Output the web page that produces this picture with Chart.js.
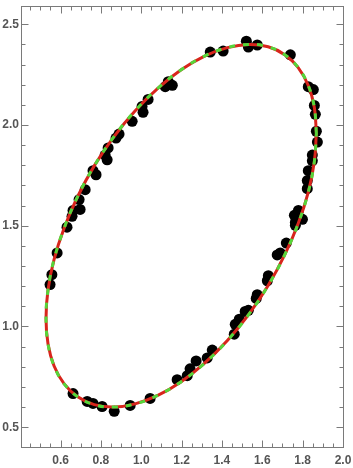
<!DOCTYPE html>
<html>
<head>
<meta charset="utf-8">
<script src="https://cdn.jsdelivr.net/npm/chart.js@4.4.1/dist/chart.umd.min.js"></script>
<style>
  html, body { margin: 0; padding: 0; background: #ffffff; }
  #wrap { position: relative; width: 353px; height: 468px; }
</style>
</head>
<body>
<div id="wrap"><canvas id="c"></canvas></div>
<script>
// ---- data ----
const sampleX = [1.342,1.406,1.521,1.531,1.575,1.739,1.828,1.853,1.858,1.863,1.868,1.873,1.848,1.848,1.828,1.823,1.823,1.779,1.759,1.799,1.764,1.764,1.719,1.674,1.689,1.630,1.625,1.575,1.570,1.515,1.531,1.486,1.466,1.461,1.352,1.327,1.272,1.242,1.228,1.178,1.044,0.945,0.866,0.806,0.761,0.732,0.662,0.548,0.557,0.583,0.632,0.657,0.662,0.697,0.692,0.722,0.761,0.776,0.831,0.821,0.836,0.875,0.890,0.955,1.009,1.004,1.034,1.134,1.154,1.119];
const sampleY = [2.362,2.367,2.416,2.387,2.397,2.348,2.190,2.176,2.097,2.053,1.969,1.915,1.851,1.822,1.773,1.724,1.684,1.576,1.552,1.532,1.517,1.502,1.414,1.355,1.365,1.252,1.227,1.158,1.139,1.075,1.080,1.036,1.011,0.962,0.883,0.844,0.829,0.790,0.756,0.736,0.643,0.608,0.579,0.603,0.618,0.628,0.667,1.208,1.257,1.365,1.493,1.547,1.576,1.581,1.630,1.679,1.773,1.753,1.827,1.851,1.886,1.935,1.955,2.018,2.063,2.092,2.127,2.215,2.197,2.190];

// fitted closed curve, read along the drawn ellipse
const curveX = [1.868,1.858,1.828,1.778,1.711,1.629,1.533,1.427,1.314,1.198,1.082,0.969,0.863,0.767,0.685,0.618,0.568,0.538,0.528,0.538,0.568,0.618,0.685,0.767,0.863,0.969,1.082,1.198,1.314,1.427,1.533,1.629,1.711,1.778,1.828,1.858,1.868];
const curveY = [1.959,2.087,2.196,2.285,2.349,2.388,2.400,2.384,2.342,2.274,2.182,2.070,1.940,1.797,1.645,1.489,1.333,1.182,1.041,0.913,0.804,0.715,0.651,0.612,0.600,0.616,0.658,0.726,0.818,0.930,1.060,1.203,1.355,1.511,1.667,1.818,1.959];

const xTickLabels = [0.6, 0.8, 1.0, 1.2, 1.4, 1.6, 1.8, 2.0];
const yTickLabels = [0.5, 1.0, 1.5, 2.0, 2.5];

const xRange = [0.404, 2.005];
const yRange = [0.397, 2.593];

// ---- build datasets ----
const toPts = (xs, ys) => xs.map((x, i) => ({ x: x, y: ys[i] }));

const FRAME = '#7a7a7a';
const LABEL = '#555555';

const frameTicks = {
  id: 'frameTicks',
  afterDraw(chart) {
    const { ctx, chartArea: a, scales } = chart;
    const xs = scales.x, ys = scales.y;
    ctx.save();
    ctx.strokeStyle = FRAME;
    ctx.lineWidth = 1;
    const L = Math.round(a.left) + 0.5, R = Math.round(a.right) - 0.5;
    const T = Math.round(a.top) + 0.5, B = Math.round(a.bottom) - 0.5;
    ctx.strokeRect(L, T, R - L, B - T);
    ctx.beginPath();
    for (let k = Math.ceil(xs.min / 0.05 - 1e-6); k * 0.05 <= xs.max + 1e-9; k++) {
      const v = k * 0.05;
      const major = xTickLabels.some(t => Math.abs(t - v) < 1e-6);
      const len = major ? 7 : 4;
      const px = Math.round(xs.getPixelForValue(v)) + 0.5;
      ctx.moveTo(px, B); ctx.lineTo(px, B - len);
      ctx.moveTo(px, T); ctx.lineTo(px, T + len);
    }
    for (let k = Math.ceil(ys.min / 0.1 - 1e-6); k * 0.1 <= ys.max + 1e-9; k++) {
      const v = k * 0.1;
      const major = yTickLabels.some(t => Math.abs(t - v) < 1e-6);
      const len = major ? 7 : 4;
      const py = Math.round(ys.getPixelForValue(v)) + 0.5;
      ctx.moveTo(L, py); ctx.lineTo(L + len, py);
      ctx.moveTo(R, py); ctx.lineTo(R - len, py);
    }
    ctx.stroke();
    ctx.restore();
  }
};

new Chart(document.getElementById('c'), {
  type: 'scatter',
  data: {
    datasets: [
      {
        label: 'samples',
        data: toPts(sampleX, sampleY),
        backgroundColor: '#000000',
        borderColor: '#000000',
        pointRadius: 5.5,
        pointBorderWidth: 0,
        showLine: false,
        order: 3
      },
      {
        label: 'fit',
        data: toPts(curveX, curveY),
        showLine: true,
        borderColor: '#d8251c',
        borderWidth: 3,
        pointRadius: 0,
        tension: 0.4,
        fill: false,
        order: 2
      },
      {
        label: 'fit dashed',
        data: toPts(curveX, curveY),
        showLine: true,
        borderColor: '#55d63a',
        borderWidth: 3,
        borderDash: [6, 8],
        pointRadius: 0,
        tension: 0.4,
        fill: false,
        order: 1
      }
    ]
  },
  options: {
    responsive: true,
    maintainAspectRatio: false,
    animation: false,
    layout: { padding: { top: 1, right: 9, left: 0, bottom: 0 } },
    plugins: { legend: { display: false }, tooltip: { enabled: false } },
    scales: {
      x: {
        type: 'linear',
        min: xRange[0], max: xRange[1],
        grid: { display: false, drawTicks: false },
        border: { display: false },
        afterBuildTicks: (s) => { s.ticks = xTickLabels.map(v => ({ value: v })); },
        afterFit: (s) => { s.height = 20; s.paddingLeft = 0; s.paddingRight = 0; },
        ticks: {
          padding: 5,
          maxRotation: 0,
          autoSkip: false,
          color: LABEL,
          font: { family: 'Liberation Sans', size: 12, weight: 'bold' },
          callback: (v) => Number(v).toFixed(1)
        }
      },
      y: {
        type: 'linear',
        min: yRange[0], max: yRange[1],
        grid: { display: false, drawTicks: false },
        border: { display: false },
        afterBuildTicks: (s) => { s.ticks = yTickLabels.map(v => ({ value: v })); },
        afterFit: (s) => { s.width = 21; s.paddingTop = 0; s.paddingBottom = 0; },
        ticks: {
          padding: 2,
          autoSkip: false,
          color: LABEL,
          font: { family: 'Liberation Sans', size: 12, weight: 'bold' },
          callback: (v) => Number(v).toFixed(1)
        }
      }
    }
  },
  plugins: [frameTicks]
});
</script>
</body>
</html>
